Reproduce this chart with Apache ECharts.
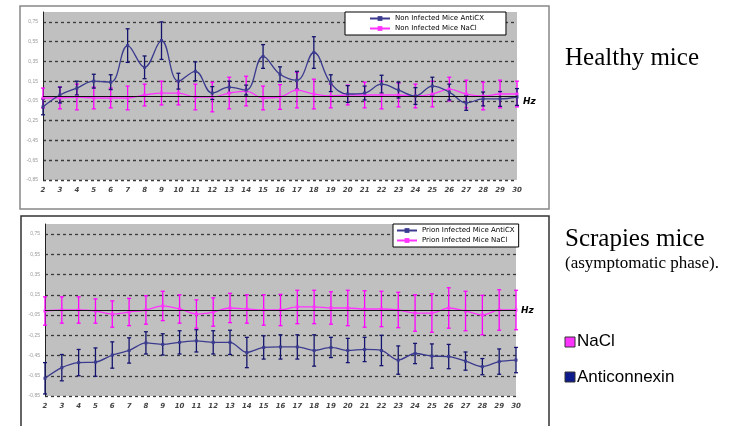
<!DOCTYPE html>
<html lang="en">
<head>
  <meta charset="UTF-8">
  <title>Healthy vs scrapies mice</title>
</head>
<body style="margin:0; background-color:#ffffff;">
<div id="main" style="width:735px; height:426px;"></div>

<script src="https://cdn.jsdelivr.net/npm/echarts@6/dist/echarts.min.js"></script>

<script>
  // frequency categories (Hz)
  var hz = ['2','3','4','5','6','7','8','9','10','11','12','13','14','15','16',
            '17','18','19','20','21','22','23','24','25','26','27','28','29','30'];

  // healthy (non infected) mice
  var healthyAnti    = [-0.11, 0.01, 0.08, 0.15, 0.14, 0.51, 0.29, 0.56, 0.15, 0.25, 0.03, 0.09, 0.06, 0.40, 0.22,
                        0.16, 0.44, 0.13, 0.02, 0.03, 0.12, 0.06, 0.00, 0.10, 0.04, -0.07, -0.03, -0.03, -0.01];
  var healthyAntiErr = [0.08, 0.08, 0.07, 0.07, 0.075, 0.17, 0.115, 0.19, 0.08, 0.095, 0.065, 0.06, 0.05, 0.12, 0.075,
                        0.09, 0.16, 0.085, 0.085, 0.07, 0.09, 0.08, 0.085, 0.09, 0.08, 0.075, 0.07, 0.075, 0.085];
  var healthyNacl    = [-0.02, -0.02, -0.01, -0.02, -0.02, -0.02, 0.01, 0.03, 0.03, -0.01, -0.01, 0.03, 0.05, -0.02, -0.01,
                        0.06, 0.02, 0.00, 0.01, 0.01, 0.01, 0.01, 0.00, 0.02, 0.07, 0.02, 0.00, 0.02, 0.02];
  var healthyNaclErr = [0.10, 0.11, 0.13, 0.11, 0.10, 0.12, 0.11, 0.12, 0.12, 0.13, 0.15, 0.16, 0.15, 0.12, 0.125,
                        0.18, 0.15, 0.12, 0.10, 0.13, 0.14, 0.12, 0.12, 0.13, 0.12, 0.14, 0.14, 0.14, 0.13];

  // scrapies (prion infected) mice
  var scrapieAnti    = [-0.675, -0.57, -0.52, -0.515, -0.445, -0.40, -0.325, -0.34, -0.32, -0.305, -0.32, -0.32, -0.42, -0.37, -0.365,
                        -0.365, -0.40, -0.37, -0.40, -0.39, -0.40, -0.495, -0.43, -0.455, -0.46, -0.505, -0.56, -0.51, -0.495];
  var scrapieAntiErr = [0.155, 0.13, 0.13, 0.14, 0.13, 0.125, 0.11, 0.105, 0.115, 0.11, 0.115, 0.12, 0.15, 0.115, 0.12,
                        0.12, 0.155, 0.10, 0.12, 0.12, 0.15, 0.14, 0.10, 0.12, 0.12, 0.09, 0.08, 0.125, 0.125];
  var scrapieNacl    = [-0.01, 0.00, 0.00, -0.01, -0.04, -0.02, 0.00, 0.04, 0.01, -0.04, -0.02, 0.02, 0.01, 0.00, 0.00,
                        0.03, 0.03, 0.02, 0.02, 0.01, 0.01, 0.00, -0.03, -0.03, 0.02, -0.01, -0.05, 0.00, 0.00];
  var scrapieNaclErr = [0.14, 0.13, 0.13, 0.12, 0.13, 0.135, 0.14, 0.145, 0.14, 0.14, 0.14, 0.145, 0.14, 0.15, 0.155,
                        0.165, 0.165, 0.16, 0.175, 0.18, 0.175, 0.175, 0.18, 0.19, 0.20, 0.195, 0.195, 0.20, 0.195];

  var yTicks = { min: -0.85, max: 0.85, interval: 0.2 };

  var BLUE = '#3b3b8f';
  var BLUE_BAR = '#14146e';
  var PINK = '#ff33ff';
  var PINK_BAR = '#ff00ff';

  function errData(vals, errs) {
    return vals.map(function (v, i) { return [i, v - errs[i], v + errs[i]]; });
  }

  function errRender(color) {
    return function (params, api) {
      var i = api.value(0);
      var lo = api.coord([i, api.value(1)]);
      var hi = api.coord([i, api.value(2)]);
      var st = { stroke: color, lineWidth: 1.3 };
      return {
        type: 'group',
        children: [
          { type: 'line', shape: { x1: lo[0], y1: lo[1], x2: hi[0], y2: hi[1] }, style: st },
          { type: 'line', shape: { x1: lo[0] - 2, y1: lo[1], x2: lo[0] + 2, y2: lo[1] }, style: st },
          { type: 'line', shape: { x1: hi[0] - 2, y1: hi[1], x2: hi[0] + 2, y2: hi[1] }, style: st }
        ]
      };
    };
  }

  function xAxisFor(idx) {
    return {
      type: 'category', gridIndex: idx, data: hz, boundaryGap: false,
      axisLine: { show: false }, axisTick: { show: false },
      axisLabel: { interval: 0, fontSize: 7, fontStyle: 'italic', fontWeight: 'bold',
                   color: '#444', fontFamily: 'DejaVu Sans', margin: 7 },
      splitLine: { show: false }
    };
  }

  function yAxisFor(idx) {
    return {
      type: 'value', gridIndex: idx,
      min: yTicks.min, max: yTicks.max, interval: yTicks.interval,
      axisLine: { show: true, lineStyle: { color: '#222', width: 1 } },
      axisTick: { show: false },
      axisLabel: {
        showMaxLabel: false, fontSize: 5, color: '#999', margin: 5,
        formatter: function (v) { return v.toFixed(2).replace('.', ','); }
      },
      splitLine: { show: true, showMaxLine: false,
                   lineStyle: { color: '#3a3a3a', type: [3, 3], width: 1.3 } }
    };
  }

  function lineSeries(name, data, color, idx, smooth, withZero) {
    var s = {
      name: name, type: 'line', xAxisIndex: idx, yAxisIndex: idx, data: data,
      smooth: smooth, symbol: 'rect', symbolSize: 3, z: 4,
      lineStyle: { color: color, width: 1.3 },
      itemStyle: { color: color }
    };
    if (withZero) {
      s.markLine = {
        silent: true, symbol: 'none', label: { show: false },
        lineStyle: { color: '#111', type: 'solid', width: 1.2 },
        data: [{ yAxis: 0 }]
      };
    }
    return s;
  }

  function errSeries(vals, errs, color, idx) {
    return {
      type: 'custom', xAxisIndex: idx, yAxisIndex: idx, z: 3,
      renderItem: errRender(color), data: errData(vals, errs), silent: true
    };
  }

  var legendText = { fontSize: 7, color: '#000', fontFamily: 'DejaVu Sans' };

  var chartDom = document.getElementById('main');
  var myChart = echarts.init(chartDom);

  var option = {
    backgroundColor: '#ffffff',
    animation: false,
    grid: [
      { left: 43, top: 12, width: 474, height: 168, show: true, backgroundColor: '#c0c0c0', borderWidth: 0 },
      { left: 45, top: 224, width: 471, height: 172, show: true, backgroundColor: '#c0c0c0', borderWidth: 0 }
    ],
    legend: [
      {
        data: ['Non Infected Mice AntiCX', 'Non Infected Mice NaCl'],
        left: 345, top: 12, orient: 'vertical', itemGap: 3, itemWidth: 20, itemHeight: 6,
        padding: [3, 22, 3, 24], backgroundColor: '#fff', borderColor: '#000', borderWidth: 1,
        textStyle: legendText
      },
      {
        data: ['Prion Infected Mice AntiCX', 'Prion Infected Mice NaCl'],
        left: 393, top: 224, orient: 'vertical', itemGap: 3, itemWidth: 20, itemHeight: 6,
        padding: [3, 4, 3, 3], backgroundColor: '#fff', borderColor: '#000', borderWidth: 1,
        textStyle: legendText
      }
    ],
    xAxis: [xAxisFor(0), xAxisFor(1)],
    yAxis: [yAxisFor(0), yAxisFor(1)],
    graphic: [
      { type: 'rect', shape: { x: 20, y: 6, width: 529, height: 203 }, z: -10,
        style: { fill: 'none', stroke: '#888', lineWidth: 1.5 } },
      { type: 'rect', shape: { x: 21, y: 216, width: 528, height: 220 }, z: -10,
        style: { fill: 'none', stroke: '#333', lineWidth: 1.5 } },
      { type: 'text', left: 523, top: 97,
        style: { text: 'Hz', font: 'italic bold 9px DejaVu Sans', fill: '#000' } },
      { type: 'text', left: 521, top: 306,
        style: { text: 'Hz', font: 'italic bold 9px DejaVu Sans', fill: '#000' } },
      { type: 'text', left: 565, top: 46,
        style: { text: 'Healthy mice', font: '25px "Liberation Serif"', fill: '#000' } },
      { type: 'text', left: 565, top: 227,
        style: { text: 'Scrapies mice', font: '25px "Liberation Serif"', fill: '#000' } },
      { type: 'text', left: 565, top: 255,
        style: { text: '(asymptomatic phase).', font: '17px "Liberation Serif"', fill: '#000' } },
      { type: 'rect', shape: { x: 565, y: 337, width: 10, height: 10 },
        style: { fill: '#ff33ff', stroke: '#333', lineWidth: 1 } },
      { type: 'text', left: 577, top: 333,
        style: { text: 'NaCl', font: '17px "Liberation Sans"', fill: '#000' } },
      { type: 'rect', shape: { x: 565, y: 372, width: 10, height: 10 },
        style: { fill: '#0d1a8c', stroke: '#333', lineWidth: 1 } },
      { type: 'text', left: 577, top: 369,
        style: { text: 'Anticonnexin', font: '17px "Liberation Sans"', fill: '#000' } }
    ],
    series: [
      errSeries(healthyNacl, healthyNaclErr, PINK_BAR, 0),
      errSeries(healthyAnti, healthyAntiErr, BLUE_BAR, 0),
      lineSeries('Non Infected Mice NaCl', healthyNacl, PINK, 0, 0.4, true),
      lineSeries('Non Infected Mice AntiCX', healthyAnti, BLUE, 0, 0.4, false),
      errSeries(scrapieNacl, scrapieNaclErr, PINK_BAR, 1),
      errSeries(scrapieAnti, scrapieAntiErr, BLUE_BAR, 1),
      lineSeries('Prion Infected Mice NaCl', scrapieNacl, PINK, 1, 0.3, true),
      lineSeries('Prion Infected Mice AntiCX', scrapieAnti, BLUE, 1, 0.3, false)
    ]
  };

  myChart.setOption(option);
</script>
</body>
</html>
